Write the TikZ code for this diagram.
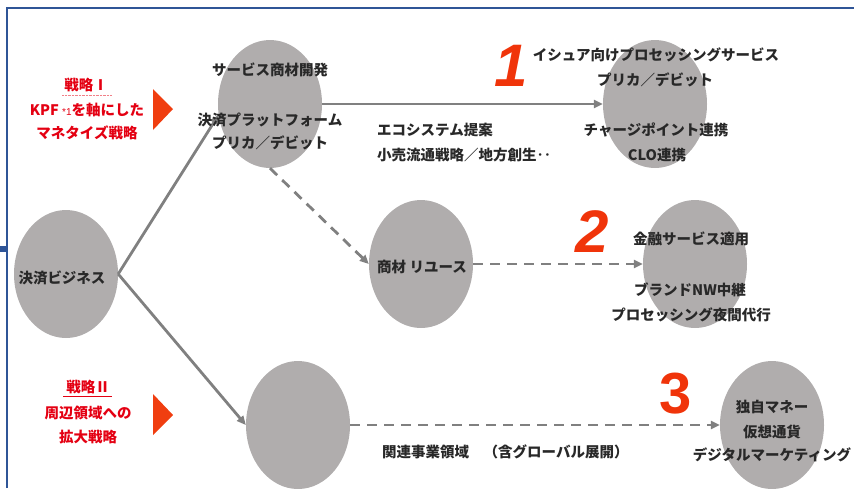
\documentclass[tikz,border=0pt]{standalone}
\usepackage{fontspec}
\usepackage{xcolor}
\setmainfont{Noto Sans CJK JP}
\newfontfamily\numfont{Liberation Sans}
\usetikzlibrary{shapes.geometric,arrows.meta}

\definecolor{bubblegray}{RGB}{176,173,173}
\definecolor{linkgray}{RGB}{128,128,128}
\definecolor{frameblue}{RGB}{47,85,151}
\definecolor{planred}{RGB}{228,0,18}
\definecolor{trired}{RGB}{240,62,16}
\definecolor{numred}{RGB}{240,52,10}
\definecolor{txtgray}{RGB}{40,40,40}

\begin{document}
\begin{tikzpicture}[x=1pt,y=-1pt,
    bubble/.style={ellipse,fill=bubblegray,minimum width=104pt,minimum height=128pt,inner sep=0pt},
    txt/.style={font=\bfseries\fontsize{14.5}{17}\selectfont,text=txtgray,inner sep=0pt},
    redtxt/.style={font=\bfseries\fontsize{14.5}{17}\selectfont,text=planred,inner sep=0pt},
    num/.style={font=\numfont\bfseries\itshape\fontsize{60}{60}\selectfont,text=numred,inner sep=0pt},
    solidlink/.style={draw=linkgray,line width=2.8pt,-{Triangle[length=9pt,width=8pt]}},
    dashlink/.style={solidlink,dash pattern=on 10pt off 7pt}]
        \useasboundingbox (0,0) rectangle (854,488);

        % frame
        \draw[frameblue,line width=2pt] (7,488) -- (7,8) -- (854,8);
        \fill[frameblue] (0,246) rectangle (7,252);

        % bubbles
        \node[bubble] (settle) at (66,274) {};
        \node[bubble] (service) at (270,104) {};
        \node[bubble] (reuse) at (421,264) {};
        \node[bubble] (issuer) at (655,104) {};
        \node[bubble] (finance) at (695,264) {};
        \node[bubble] (related) at (298,425) {};
        \node[bubble] (ownmoney) at (772,425) {};

        % links
        \draw[solidlink] (settle.east) -- (service.192);
        \draw[solidlink] (settle.east) -- (related.west);
        \draw[solidlink] (service.east) -- (issuer.west);
        \draw[dashlink] (service.south) -- (reuse.west);
        \draw[dashlink] (reuse.east) -- (finance.west);
        \draw[dashlink] (related.east) -- (ownmoney.west);

        % strategy I / II
        \fill[trired] (153,89) -- (173,109) -- (153,130) -- cycle;
        \fill[trired] (153,394) -- (173,415) -- (153,435) -- cycle;
        \node[redtxt] (plan1) at (86,85) {戦略Ⅰ};
        \draw[planred!50,densely dotted] (62,95) -- (112,95);
        \node[redtxt] (plan1a) at (87,110) {KPF {\numfont\mdseries\fontsize{10}{10}\selectfont *1}を軸にした};
        \node[redtxt] (plan1b) at (87,133) {マネタイズ戦略};
        \node[redtxt] (plan2) at (88,387) {戦略Ⅱ};
        \draw[planred] (63,396) -- (112,396);
        \node[redtxt] (plan2a) at (88,413) {周辺領域への};
        \node[redtxt] (plan2b) at (88,437) {拡大戦略};

        % bubble texts
        \node[txt] (settletxt) at (62,278) {決済ビジネス};
        \node[txt] (svcdev) at (270,70) {サービス商材開発};
        \node[txt] (platform) at (270,120) {決済プラットフォーム};
        \node[txt] (prepaid) at (270,143) {プリカ／デビット};
        \node[txt] (reusetxt) at (422,267) {商材 リユース};
        \node[txt] (issuertxt) at (656,55) {イシュア向けプロセッシングサービス};
        \node[txt] (prepaid2) at (655,80) {プリカ／デビット};
        \node[txt] (charge) at (656,130) {チャージポイント連携};
        \node[txt] (clo) at (657,155) {CLO連携};
        \node[txt] (fintxt) at (691,239) {金融サービス適用};
        \node[txt] (brand) at (690,290) {ブランドNW中継};
        \node[txt] (night) at (691,315) {プロセッシング夜間代行};
        \node[txt] (money) at (772,407) {独自マネー};
        \node[txt] (crypto) at (772,432) {仮想通貨};
        \node[txt] (digital) at (772,455) {デジタルマーケティング};

        % link texts
        \node[txt,anchor=west] (ecosys) at (377,130) {エコシステム提案};
        \node[txt,anchor=west] (retail) at (377,155) {小売流通戦略／地方創生‥};
        \node[txt,anchor=west] (global) at (382,452) {関連事業領域　（含グローバル展開）};

        % numbers
        \node[num] (n1) at (511,66) {1};
        \node[num] (n2) at (592,232) {2};
        \node[num,font=\numfont\bfseries\fontsize{58}{58}\selectfont] (n3) at (676,394) {3};
\end{tikzpicture}
\end{document}
